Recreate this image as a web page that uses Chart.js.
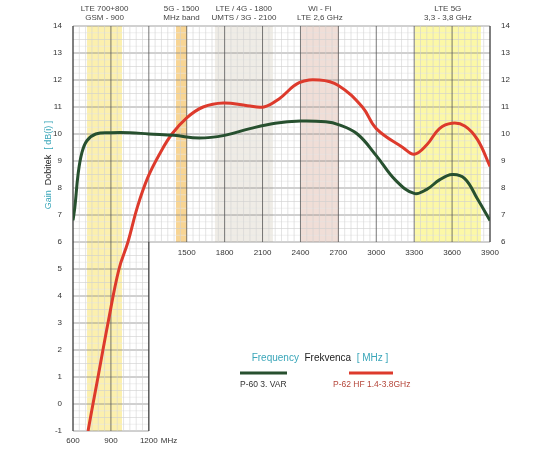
<!DOCTYPE html>
<html><head><meta charset="utf-8">
<script src="https://cdn.jsdelivr.net/npm/chart.js@4"></script>
<style>body{margin:0;background:#fff}#wrap{width:550px;height:450px}</style>
</head><body><div id="wrap"><canvas id="c"></canvas></div>
<script>
const greenX = [600, 615, 640, 670, 710, 780, 900, 1050, 1200, 1400, 1600, 1800, 2000, 2200, 2400, 2600, 2700, 2850, 3000, 3150, 3300, 3400, 3500, 3600, 3700, 3800, 3900];
const greenY = [6.8, 7.3, 8.5, 9.3, 9.75, 10.0, 10.05, 10.05, 10.0, 9.95, 9.85, 9.95, 10.2, 10.4, 10.48, 10.45, 10.35, 10.0, 9.2, 8.3, 7.8, 7.95, 8.3, 8.5, 8.35, 7.6, 6.8];
const redX = [719, 758, 798, 877, 964, 1035, 1110, 1193, 1290, 1383, 1500, 1630, 1790, 1980, 2110, 2230, 2390, 2550, 2700, 2890, 3000, 3210, 3300, 3400, 3500, 3600, 3700, 3800, 3900];
const redY = [-1, 0, 1, 3, 5, 6, 7.3, 8.4, 9.3, 10.0, 10.6, 11.0, 11.15, 11.05, 11.0, 11.3, 11.9, 12.0, 11.8, 11.0, 10.2, 9.5, 9.25, 9.6, 10.2, 10.4, 10.3, 9.8, 8.8];
const bottomTicks = [600, 900, 1200];
const midTicks = [1500, 1800, 2100, 2400, 2700, 3000, 3300, 3600, 3900];
const bands = [
  { from: 711, to: 988, top: 14, bottom: -1, color: 'rgba(250,230,120,0.6)', label: ['LTE 700+800', 'GSM - 900'] },
  { from: 1415, to: 1502, top: 14, bottom: 6, color: 'rgba(245,190,90,0.65)', label: ['5G - 1500', 'MHz band'] },
  { from: 1723, to: 2182, top: 14, bottom: 6, color: 'rgba(225,220,210,0.55)', label: ['LTE / 4G - 1800', 'UMTS / 3G - 2100'] },
  { from: 2404, to: 2704, top: 14, bottom: 6, color: 'rgba(225,190,175,0.5)', label: ['Wi - Fi', 'LTE 2,6 GHz'] },
  { from: 3305, to: 3828, top: 14, bottom: 6, color: 'rgba(250,245,120,0.65)', label: ['LTE 5G', '3,3 - 3,8 GHz'] }
];

const toPts = (xs, ys) => xs.map((x, i) => ({ x: x, y: ys[i] }));

// grid, bands and cut-out drawn under the curves
const background = {
  id: 'background',
  beforeDatasetsDraw(chart) {
    const { ctx, chartArea: a, scales: { x, y } } = chart;
    ctx.save();
    bands.forEach(b => {
      ctx.fillStyle = b.color;
      ctx.fillRect(x.getPixelForValue(b.from), y.getPixelForValue(b.top),
        x.getPixelForValue(b.to) - x.getPixelForValue(b.from), y.getPixelForValue(b.bottom) - y.getPixelForValue(b.top));
    });
    const line = (x1, y1, x2, y2, c, w) => {
      ctx.strokeStyle = c; ctx.lineWidth = w;
      ctx.beginPath(); ctx.moveTo(x1, y1); ctx.lineTo(x2, y2); ctx.stroke();
    };
    const y6 = y.getPixelForValue(6), x12 = x.getPixelForValue(1200);
    for (let v = -1; v <= 14; v += 0.25) {
      const py = y.getPixelForValue(v);
      const right = v < 6 ? x12 : a.right;
      if (Number.isInteger(v)) line(a.left, py, right, py, '#8a8a8a', 0.8);
      else line(a.left, py, right, py, v % 0.5 === 0 ? '#cfcfcf' : '#e6e6e6', 0.6);
    }
    for (let v = 600; v <= 3900; v += 50) {
      const px = x.getPixelForValue(v);
      const bot = v <= 1200 ? a.bottom : y6;
      if (v % 300 === 0) line(px, a.top, px, bot, '#555', 0.8);
      else line(px, a.top, px, bot, '#d2d2d2', 0.6);
    }
    line(a.left, a.top, a.left, a.bottom, '#444', 1);
    line(a.right, a.top, a.right, y6, '#444', 1);
    line(x12, y6, x12, a.bottom, '#444', 1);
    ctx.restore();
  },
  afterDraw(chart) {
    const { ctx, chartArea: a, scales: { x, y } } = chart;
    ctx.save();
    ctx.font = '8px "Liberation Sans", Arial';
    ctx.fillStyle = '#333';
    ctx.textAlign = 'center';
    ctx.textBaseline = 'top';
    bottomTicks.forEach(v => ctx.fillText(v, x.getPixelForValue(v), a.bottom + 6));
    ctx.textAlign = 'left';
    ctx.fillText('MHz', x.getPixelForValue(1200) + 12, a.bottom + 6);
    ctx.textAlign = 'center';
    midTicks.forEach(v => ctx.fillText(v, x.getPixelForValue(v), y.getPixelForValue(6) + 7));
    ctx.textBaseline = 'alphabetic';
    ctx.fillStyle = '#444';
    bands.forEach(b => {
      const cx = (x.getPixelForValue(b.from) + x.getPixelForValue(b.to)) / 2;
      ctx.fillText(b.label[0], cx, 11);
      ctx.fillText(b.label[1], cx, 20);
    });
    // axis title
    ctx.translate(51, 165);
    ctx.rotate(-Math.PI / 2);
    ctx.font = '9px "Liberation Sans", Arial';
    const parts = [['Gain  ', '#3aa6b9'], ['Dobitek  ', '#222'], ['[ dB(i) ]', '#3aa6b9']];
    let w = parts.reduce((s, p) => s + ctx.measureText(p[0]).width, 0), px = -w / 2;
    ctx.textAlign = 'left';
    parts.forEach(p => { ctx.fillStyle = p[1]; ctx.fillText(p[0], px, 0); px += ctx.measureText(p[0]).width; });
    ctx.setTransform(1, 0, 0, 1, 0, 0);
    // legend
    ctx.font = '10px "Liberation Sans", Arial';
    const fparts = [['Frequency  ', '#3aa6b9'], ['Frekvenca  ', '#222'], ['[ MHz ]', '#3aa6b9']];
    w = fparts.reduce((s, p) => s + ctx.measureText(p[0]).width, 0); px = 320 - w / 2;
    fparts.forEach(p => { ctx.fillStyle = p[1]; ctx.fillText(p[0], px, 361); px += ctx.measureText(p[0]).width; });
    ctx.lineWidth = 3;
    ctx.strokeStyle = '#27502f'; ctx.beginPath(); ctx.moveTo(240, 373); ctx.lineTo(287, 373); ctx.stroke();
    ctx.strokeStyle = '#dd3a2c'; ctx.beginPath(); ctx.moveTo(349, 373); ctx.lineTo(393, 373); ctx.stroke();
    ctx.font = '8.5px "Liberation Sans", Arial';
    ctx.fillStyle = '#333'; ctx.fillText('P-60 3. VAR', 240, 387);
    ctx.fillStyle = '#b5463a'; ctx.fillText('P-62 HF 1.4-3.8GHz', 333, 387);
    ctx.restore();
  }
};

new Chart(document.getElementById('c'), {
  type: 'line',
  data: {
    datasets: [
      { data: toPts(greenX, greenY), borderColor: '#27502f', borderWidth: 3, pointRadius: 0, tension: 0.4, yAxisID: 'y' },
      { data: toPts(redX, redY), borderColor: '#dd3a2c', borderWidth: 3, pointRadius: 0, tension: 0.4, yAxisID: 'y' }
    ]
  },
  options: {
    responsive: true, maintainAspectRatio: false, animation: false,
    layout: { padding: { left: 33, right: 20, top: 26, bottom: 19 } },
    plugins: { legend: { display: false }, tooltip: { enabled: false } },
    scales: {
      x: { type: 'linear', min: 600, max: 3900, display: false },
      y: {
        min: -1, max: 14, grid: { display: false }, border: { display: false },
        afterFit: s => { s.width = 40; },
        ticks: { stepSize: 1, color: '#333', font: { size: 8, family: 'Liberation Sans' } }
      },
      y2: {
        position: 'right', min: -1, max: 14, grid: { display: false }, border: { display: false },
        afterFit: s => { s.width = 40; },
        ticks: { stepSize: 1, color: '#333', font: { size: 8, family: 'Liberation Sans' }, callback: v => v >= 6 ? v : '' }
      }
    }
  },
  plugins: [background]
});
</script></body></html>
